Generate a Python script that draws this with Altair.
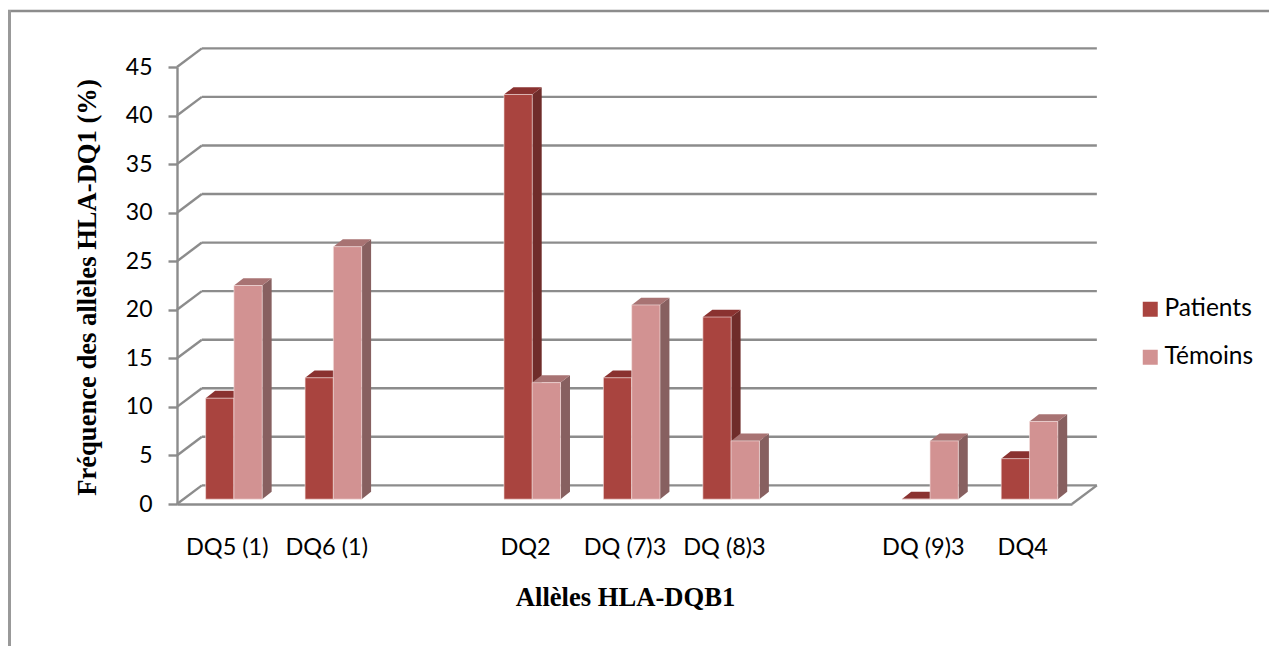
import json
import altair as alt
import pandas as pd

# Category slots along the horizontal axis; empty strings are the gaps between groups
slots = ["DQ5 (1)", "DQ6 (1)", "", "DQ2", "DQ (7)3", "DQ (8)3", "", "DQ (9)3", "DQ4"]
patients = [10.4, 12.5, None, 41.67, 12.5, 18.75, None, 0, 4.17]
temoins = [22, 26, None, 12, 20, 6, None, 6, 8]
y_ticks = [0, 5, 10, 15, 20, 25, 30, 35, 40, 45]

series_names = ["Patients", "Témoins"]
front_colors = ["#A9443F", "#D29292"]
side_colors = ["#6F2C2A", "#876060"]
top_colors = ["#8A3230", "#A87373"]
grid_color = "#8C8C8C"

# Oblique projection of the 3-D box, in axis units
DEPTH_X = 0.25    # wall offset, category units
DEPTH_Y = 1.92    # wall offset, value units
BAR_DX = 0.095    # bar depth, category units
BAR_DY = 0.75     # bar depth, value units
BAR_LIFT = 0.5    # bars stand slightly behind the front edge of the floor
BAR_W = 0.2844
BAR_START = 0.288

fronts, sides, tops = [], [], []
for s, (name, vals) in enumerate(zip(series_names, [patients, temoins])):
    for i, v in enumerate(vals):
        if v is None:
            continue
        x0 = i + BAR_START + s * BAR_W
        x1 = x0 + BAR_W
        base = BAR_LIFT
        top = BAR_LIFT + v
        bar = f"{s}-{i}"
        fronts.append({"series": name, "x0": x0, "x1": x1, "y0": base, "y1": top, "label": slots[i]})
        sides += [
            {"bar": bar, "fill": side_colors[s], "x": x1, "lo": base, "hi": top},
            {"bar": bar, "fill": side_colors[s], "x": x1 + BAR_DX, "lo": base + BAR_DY, "hi": top + BAR_DY},
        ]
        tops += [
            {"bar": bar, "fill": top_colors[s], "x": x0, "lo": top, "hi": top},
            {"bar": bar, "fill": top_colors[s], "x": x0 + BAR_DX, "lo": top, "hi": top + BAR_DY},
            {"bar": bar, "fill": top_colors[s], "x": x1, "lo": top, "hi": top + BAR_DY},
            {"bar": bar, "fill": top_colors[s], "x": x1 + BAR_DX, "lo": top + BAR_DY, "hi": top + BAR_DY},
        ]

n = len(slots)
x_scale = alt.Scale(domain=[0, n], nice=False, zero=False)
y_scale = alt.Scale(domain=[0, 45], nice=False, zero=False)
label_expr = f"{json.dumps(slots, ensure_ascii=False)}[floor(datum.value)]"
label_font = "Lato"
title_font = "Liberation Serif"

# Both axes are shared by every layer
x_axis = alt.Axis(
    values=[i + 0.5 for i, s in enumerate(slots) if s],
    labelExpr=label_expr, grid=False, ticks=False, labelAngle=0,
    labelFont=label_font, labelFontSize=23.5, labelColor="#000000",
    labelPadding=31, labelOverlap=False, labelFlush=False,
    domainColor=grid_color, domainWidth=2.4,
    title="Allèles HLA-DQB1", titleFont=title_font, titleFontSize=26.6,
    titleFontWeight="bold", titleColor="#000000", titleX=448, titleY=80,
    titleAlign="center",
)
y_axis = alt.Axis(
    values=y_ticks, grid=False, tickSize=9, tickWidth=2.4, tickColor=grid_color,
    domainColor=grid_color, domainWidth=2.4,
    labelFont=label_font, labelFontSize=23, labelColor="#000000", labelPadding=16,
    title="Fréquence des allèles HLA-DQ1 (%)", titleFont=title_font, titleFontSize=26.6,
    titleFontWeight="bold", titleColor="#000000", titleX=-76, titleY=220,
    titleAlign="center",
)

# Back wall gridlines
wall = pd.DataFrame({"x0": DEPTH_X, "x1": n + DEPTH_X, "y": [t + DEPTH_Y for t in y_ticks]})
wall_rules = alt.Chart(wall).mark_rule(color=grid_color, strokeWidth=2.4).encode(
    x=alt.X("x0:Q", scale=x_scale, axis=x_axis),
    x2="x1:Q",
    y=alt.Y("y:Q", scale=y_scale, axis=y_axis),
)

# Diagonals joining the front axis to the back wall, plus the right edge of the floor
diag_rows = []
for t in y_ticks:
    diag_rows += [{"key": f"t{t}", "x": 0, "y": t}, {"key": f"t{t}", "x": DEPTH_X, "y": t + DEPTH_Y}]
diag_rows += [{"key": "floor", "x": n, "y": 0}, {"key": "floor", "x": n + DEPTH_X, "y": DEPTH_Y}]
diagonals = alt.Chart(pd.DataFrame(diag_rows)).mark_line(color=grid_color, strokeWidth=2.4).encode(
    x=alt.X("x:Q", scale=x_scale, axis=x_axis),
    y=alt.Y("y:Q", scale=y_scale, axis=y_axis),
    detail="key:N",
)

side_layer = alt.Chart(pd.DataFrame(sides)).mark_area(interpolate="linear").encode(
    x=alt.X("x:Q", scale=x_scale, axis=x_axis),
    y=alt.Y("lo:Q", scale=y_scale, axis=y_axis),
    y2="hi:Q",
    fill=alt.Fill("fill:N", scale=None),
    detail="bar:N",
)
top_layer = alt.Chart(pd.DataFrame(tops)).mark_area(interpolate="linear").encode(
    x=alt.X("x:Q", scale=x_scale, axis=x_axis),
    y=alt.Y("lo:Q", scale=y_scale, axis=y_axis),
    y2="hi:Q",
    fill=alt.Fill("fill:N", scale=None),
    detail="bar:N",
)
front_layer = alt.Chart(pd.DataFrame(fronts)).mark_rect(stroke="#F6E4E3", strokeWidth=0.6).encode(
    x=alt.X("x0:Q", scale=x_scale, axis=x_axis),
    x2="x1:Q",
    y=alt.Y("y0:Q", scale=y_scale, axis=y_axis),
    y2="y1:Q",
    color=alt.Color(
        "series:N",
        scale=alt.Scale(domain=series_names, range=front_colors),
        legend=alt.Legend(
            title=None, orient="none", legendX=961, legendY=230,
            symbolType="square", symbolSize=225, symbolStrokeWidth=0,
            labelFont=label_font, labelFontSize=24.5, labelColor="#000000",
            rowPadding=23, labelOffset=2,
        ),
    ),
)

# Outer frame: top and left edges only
frame_top = alt.Chart(pd.DataFrame({"k": [0]})).mark_rule(color="#8C8C8C", strokeWidth=2.5).encode(
    x=alt.value(-169), x2=alt.value(1092), y=alt.value(-56)
)
frame_left = alt.Chart(pd.DataFrame({"k": [0]})).mark_rule(color="#999999", strokeWidth=3).encode(
    x=alt.value(-167.5), y=alt.value(-57), y2=alt.value(579)
)

chart = (
    alt.layer(wall_rules, diagonals, frame_top, frame_left, side_layer, top_layer, front_layer)
    .resolve_scale(fill="independent")
    .properties(
        width=895,
        height=437,
        background="white",
        autosize=alt.AutoSizeParams(type="none"),
        padding={"left": 177, "top": 67, "right": 197, "bottom": 142},
    )
    .configure_view(stroke=None)
)

chart.save("out.html", embed_options={"renderer": "svg", "actions": False})
